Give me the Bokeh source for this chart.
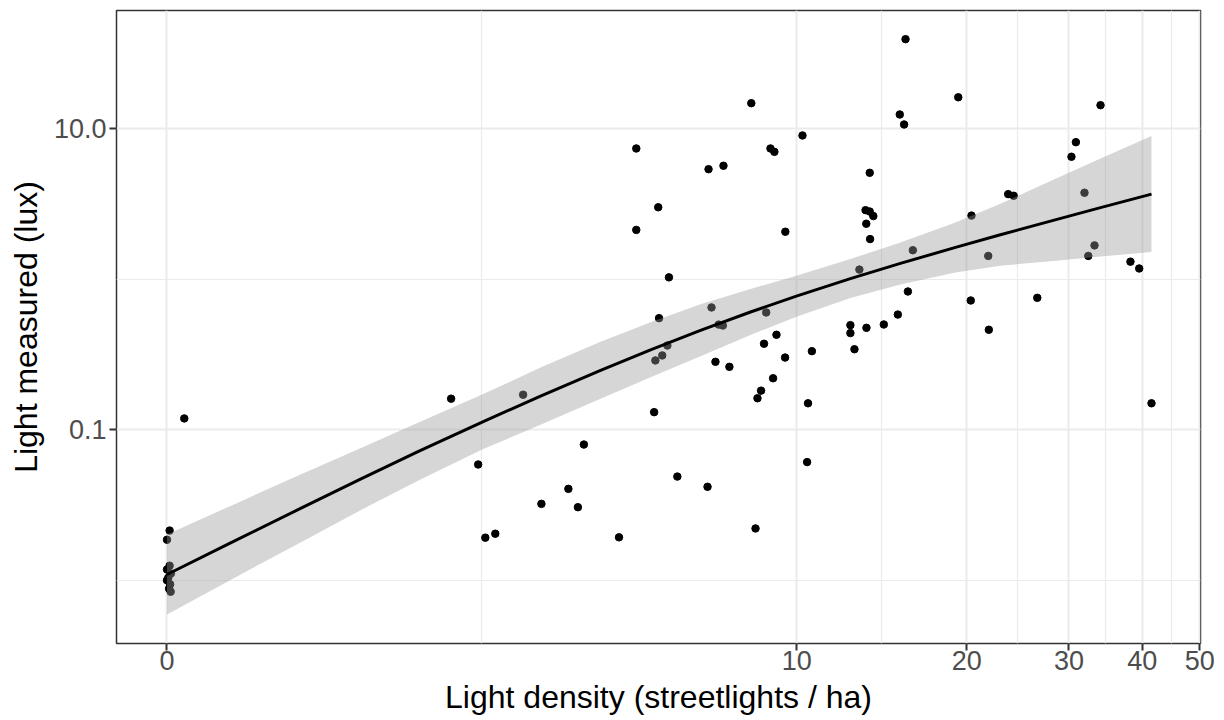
import math
from bokeh.plotting import figure
from bokeh.models import (ColumnDataSource, FixedTicker, Range1d, CustomJSTransform,
                          CustomJSTickFormatter)
from bokeh.transform import transform
from bokeh.embed import file_html
from bokeh.resources import INLINE

# ---- observations: light density (streetlights / ha) vs light measured (lux)
density = [0.010, 0.000, 0.015, 0.005, 0.000, 0.012, 0.008, 0.014,
           0.010, 0.000, 0.068, 1.95, 2.88, 2.27, 3.89, 3.61, 3.16, 3.78,
           2.36, 2.49, 4.59, 5.39, 5.42, 5.59, 5.72, 5.98, 4.97, 5.49, 4.97,
           5.76, 5.51, 15.64, 8.25, 19.34, 15.28, 15.55, 10.24, 8.95, 9.10,
           6.86, 7.32, 13.52, 13.29, 13.52, 13.72, 13.33, 13.54, 9.53, 16.11,
           12.96, 15.79, 15.16, 14.32, 12.49, 13.34, 6.95, 7.17, 7.30, 8.79,
           9.18, 8.71, 7.07, 7.51, 9.52, 9.05, 8.60, 8.47, 10.65, 10.48, 10.44,
           6.83, 8.40, 12.49, 12.70, 33.96, 30.83, 30.30, 23.60, 24.12, 31.89,
           20.39, 21.80, 33.17, 32.37, 38.18, 39.51, 20.33, 26.48, 21.85, 41.45]
lux = [0.0125, 0.0118, 0.0111, 0.0104, 0.0100, 0.0094, 0.0088, 0.0084,
       0.0214, 0.0186, 0.119, 0.161, 0.171, 0.0588, 0.0798, 0.0405, 0.0322, 0.0306,
       0.0192, 0.0204, 0.0193, 0.131, 0.289, 0.312, 0.363, 0.0489, 7.40, 3.01, 2.13,
       1.03, 0.552, 39.4, 14.8, 16.2, 12.45, 10.68, 9.03, 7.40, 7.03,
       5.39, 5.68, 5.10, 2.88, 2.82, 2.63, 2.34, 1.85, 2.07, 1.56,
       1.16, 0.830, 0.583, 0.501, 0.496, 0.476, 0.650, 0.500, 0.493, 0.602,
       0.428, 0.373, 0.283, 0.262, 0.302, 0.220, 0.182, 0.162, 0.333, 0.150, 0.061,
       0.0418, 0.0221, 0.439, 0.343, 14.35, 8.15, 6.52, 3.68, 3.59, 3.76,
       2.65, 1.43, 1.68, 1.43, 1.31, 1.18, 0.723, 0.753, 0.462, 0.150]

# ---- fitted smooth and its confidence band
fit_density = [0.0, 0.274, 0.663, 1.089, 1.605, 2.334, 3.146, 4.211, 5.303, 6.623,
               8.222, 10.015, 12.49, 15.32, 19.13, 22.88, 27.9, 33.96, 41.45]
fit_lux = [0.01093, 0.01772, 0.03004, 0.04696, 0.07187, 0.1134, 0.1674, 0.2485, 0.3401, 0.4583,
           0.6064, 0.7758, 1.0108, 1.2757, 1.6292, 1.9756, 2.4356, 2.9950, 3.6827]
fit_lower = [0.005926, 0.01006, 0.01786, 0.02923, 0.04612, 0.07446, 0.1082, 0.1607, 0.2233, 0.3079,
             0.4265, 0.5669, 0.7500, 0.9251, 1.1113, 1.2295, 1.3205, 1.4150, 1.5162]
fit_upper = [0.02016, 0.03122, 0.05053, 0.07546, 0.1120, 0.1727, 0.2589, 0.3844, 0.5180, 0.6822,
             0.8622, 1.0616, 1.3623, 1.7592, 2.3884, 3.1744, 4.4925, 6.3392, 8.9449]

# ---- axis ticks
x_tick_values = [0, 10, 20, 30, 40, 50]
y_tick_values = [0.1, 10.0]
y_tick_labels = ["0.1", "10.0"]
y_minor_values = [0.01, 1.0]

x_major = [math.log10(v + 1) for v in x_tick_values]
x_minor = [(a + b) / 2 for a, b in zip(x_major[:-1], x_major[1:])]

log1p = CustomJSTransform(func="return Math.log10(x + 1)",
                          v_func="return xs.map((x) => Math.log10(x + 1))")

pts = ColumnDataSource(data=dict(x=density, y=lux))
band = ColumnDataSource(data=dict(x=fit_density, fit=fit_lux, lo=fit_lower, hi=fit_upper))

p = figure(width=1220, height=718, output_backend="svg", toolbar_location=None,
           y_axis_type="log",
           x_range=Range1d(-0.0835, 1.7089), y_range=Range1d(0.003802, 61.1),
           min_border_left=116, min_border_right=20, min_border_top=10, min_border_bottom=75)

p.background_fill_color = "white"
p.border_fill_color = "white"
p.outline_line_color = "#333333"
p.outline_line_width = 1.5

p.scatter(x=transform("x", log1p), y="y", source=pts, size=7.5,
          fill_color="black", line_color="black")
p.varea(x=transform("x", log1p), y1="lo", y2="hi", source=band,
        fill_color="#999999", fill_alpha=0.4)
p.line(x=transform("x", log1p), y="fit", source=band, line_color="black", line_width=3)

p.xaxis.ticker = FixedTicker(ticks=x_major, minor_ticks=x_minor)
p.yaxis.ticker = FixedTicker(ticks=y_tick_values, minor_ticks=y_minor_values)

p.xaxis.formatter = CustomJSTickFormatter(
    args=dict(vals=x_tick_values),
    code="for (const v of vals) { if (Math.abs(Math.log10(v + 1) - tick) < 1e-6) return String(v); } return '';")
p.yaxis.formatter = CustomJSTickFormatter(
    args=dict(vals=y_tick_values, labs=y_tick_labels),
    code="for (let i = 0; i < vals.length; i++) { if (Math.abs(Math.log10(vals[i]) - Math.log10(tick)) < 1e-6) return labs[i]; } return '';")

for ax in (p.xaxis[0], p.yaxis[0]):
    ax.axis_line_color = None
    ax.major_tick_line_color = "#333333"
    ax.major_tick_line_width = 2
    ax.major_tick_out = 7
    ax.major_tick_in = 0
    ax.minor_tick_line_color = None
    ax.major_label_text_font = "Liberation Sans"
    ax.major_label_text_font_size = "27px"
    ax.major_label_text_color = "#4D4D4D"
    ax.axis_label_text_font = "Liberation Sans"
    ax.axis_label_text_font_size = "32px"
    ax.axis_label_text_font_style = "normal"
    ax.axis_label_text_color = "black"

p.xaxis.axis_label = "Light density (streetlights / ha)"
p.yaxis.axis_label = "Light measured (lux)"
p.xaxis.major_label_standoff = 0
p.xaxis.axis_label_standoff = 6
p.yaxis.major_label_standoff = 3
p.yaxis.axis_label_standoff = 7

for g in (p.xgrid[0], p.ygrid[0]):
    g.grid_line_color = "#EBEBEB"
    g.grid_line_width = 2
    g.minor_grid_line_color = "#EBEBEB"
    g.minor_grid_line_width = 1.2

open("out.html", "w").write(file_html(p, INLINE))
